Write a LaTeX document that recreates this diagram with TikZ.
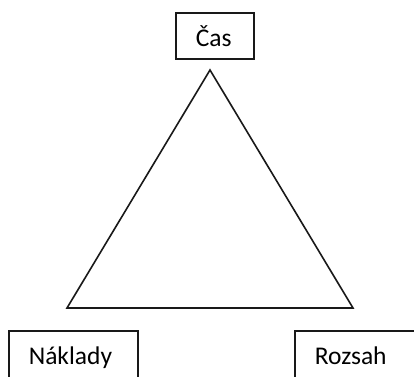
\documentclass[tikz,border=0pt]{standalone}
\usepackage{fontspec}
\setmainfont{Carlito}
\begin{document}
\begin{tikzpicture}[x=1pt,y=-1pt,
  line/.style={draw=black!90,line width=1.6pt},
  box/.style={line, inner xsep=20pt, inner ysep=0pt, align=left,
    text height=34pt, text depth=12pt, anchor=north west,
    font=\fontsize{25.5}{30}\selectfont}]
\clip (0,0) rectangle (414,376);
\fill[white] (0,0) rectangle (414,376);
\node[box, text width=38pt] (cas) at (175,12) {Čas};
\node[box, text width=89pt, text depth=14pt] (naklady) at (8,330) {Náklady};
\node[box, text width=89pt, text depth=14pt] (rozsah) at (294,330) {Rozsah};
\coordinate (top) at (210,70);
\coordinate (bl) at (67,308);
\coordinate (br) at (353,308);
\draw[line] (top) -- (bl) -- (br) -- cycle;
\end{tikzpicture}
\end{document}
